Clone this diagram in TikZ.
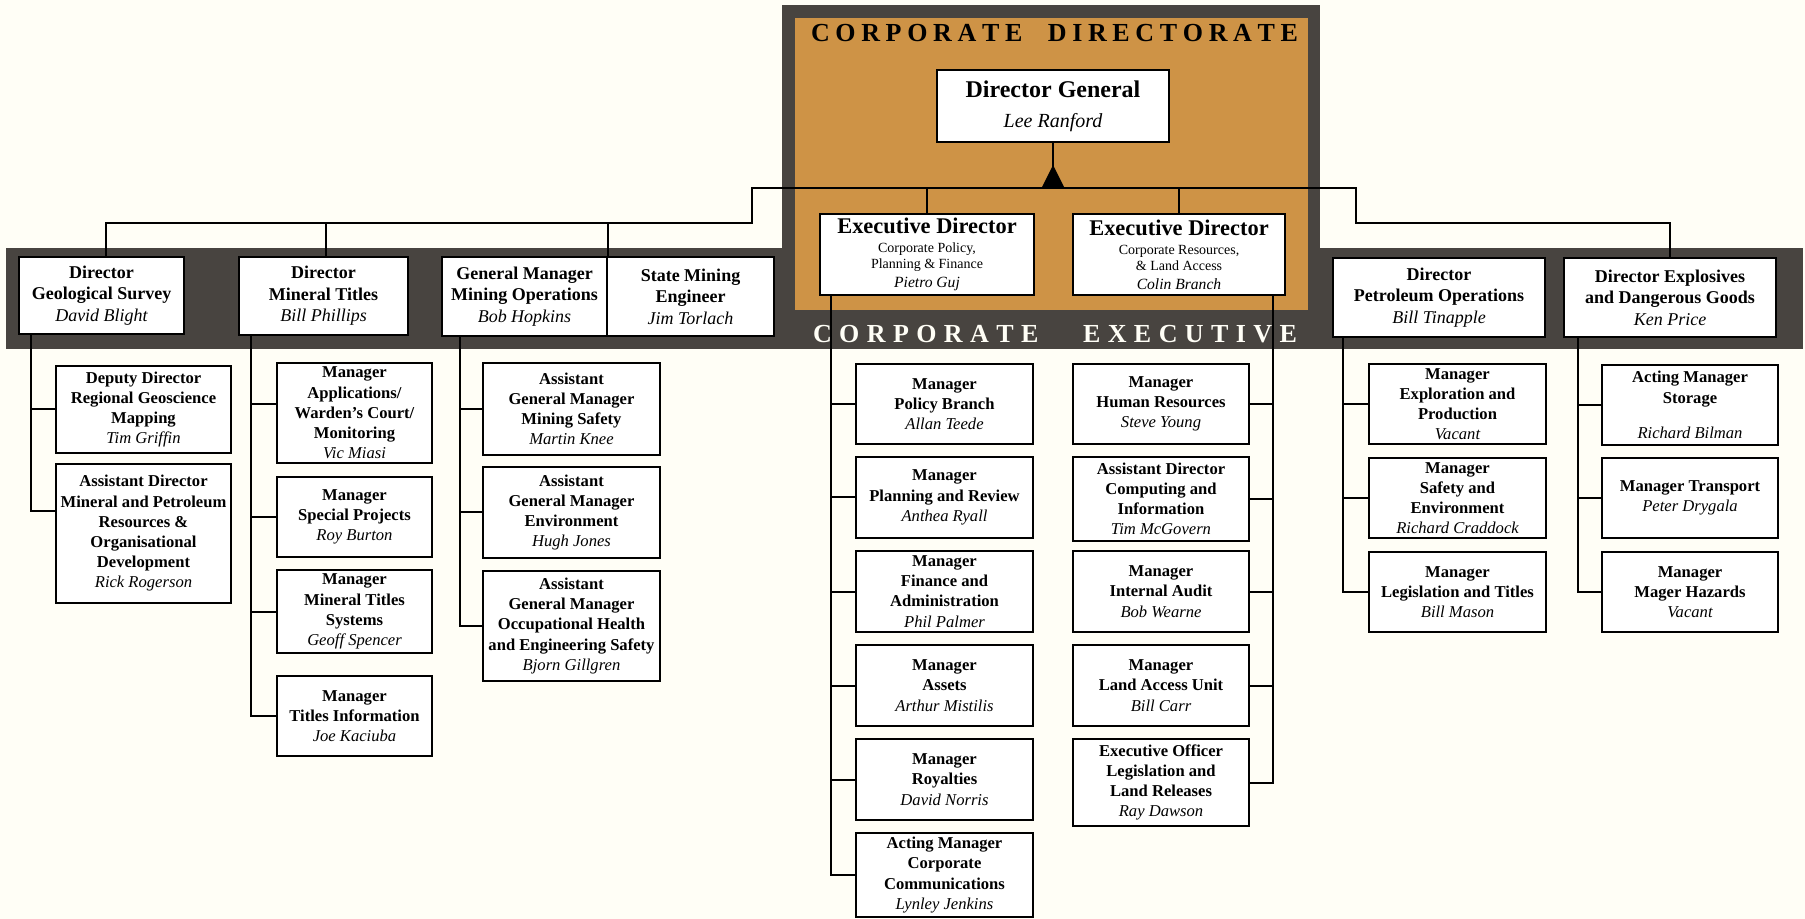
\documentclass[tikz,border=0pt]{standalone}
\usepackage{fontspec}
\setmainfont{Liberation Serif}
\usepackage{tikz}
\usetikzlibrary{calc,positioning}
\definecolor{paper}{RGB}{255,254,246}
\definecolor{ochre}{RGB}{206,147,70}
\definecolor{slate}{RGB}{72,68,64}
\newcommand{\who}[1]{{\mdseries\itshape #1}}

\begin{document}
\begin{tikzpicture}[
    x=0.5pt, y=-0.5pt,
    link/.style={line width=1pt},
    boss/.style={draw, fill=white, line width=1.2pt, align=center, inner sep=1pt},
    head/.style={boss, inner ysep=0pt, font=\fontsize{9}{10.8}\selectfont\bfseries},
    kid/.style={boss, inner ysep=0pt, minimum width=#1, font=\fontsize{8.3}{10.1}\selectfont\bfseries},
    exec/.style={boss, minimum height=40.5pt, inner sep=0pt, font=\fontsize{7}{8}\selectfont},
    banner/.style={font=\fontsize{13}{15}\selectfont\bfseries}
]
\useasboundingbox (0,0) rectangle (1805,919);
\fill[paper] (0,0) rectangle (1805,919);

% dark band and the directorate frame
\fill[slate] (6,248) rectangle (1803,349);
\fill[slate] (782,5) rectangle (1320,349);
\fill[ochre] (795,18) rectangle (1308,310);

\node[banner] (dirtitle) at (1054.5,33) {\makebox[243.5pt]{C\hfill O\hfill R\hfill P\hfill O\hfill R\hfill A\hfill T\hfill E\hskip 0pt plus 4.5fill D\hfill I\hfill R\hfill E\hfill C\hfill T\hfill O\hfill R\hfill A\hfill T\hfill E}};
\node[banner, text=paper] (exectitle) at (1055,334) {\makebox[242pt]{C\hfill O\hfill R\hfill P\hfill O\hfill R\hfill A\hfill T\hfill E\hskip 0pt plus 6fill E\hfill X\hfill E\hfill C\hfill U\hfill T\hfill I\hfill V\hfill E}};

% directorate
\node[boss, minimum width=116pt, minimum height=36pt] (dg) at (1053,106) {\fontsize{12}{14}\selectfont\bfseries Director General\\[3pt]\fontsize{10}{12}\selectfont\mdseries\itshape Lee Ranford};
\node[exec, minimum width=107pt] (exec1) at (927,254.5) {{\fontsize{11.2}{12}\selectfont\bfseries Executive Director}\\[1.5pt]Corporate Policy,\\Planning \& Finance\\[1.5pt]{\fontsize{7.8}{9}\selectfont\itshape Pietro Guj}};
\node[exec, minimum width=106pt] (exec2) at (1179,254.5) {{\fontsize{11.2}{12}\selectfont\bfseries Executive Director}\\[1.5pt]Corporate Resources,\\\& Land Access\\[1.5pt]{\fontsize{7.8}{9}\selectfont\itshape Colin Branch}};

% corporate executive
\node[head, minimum width=82.5pt, minimum height=38.5pt] (geo) at (101.5,295.5) {Director\\Geological Survey\\\who{David Blight}};
\node[head, minimum width=84.5pt, minimum height=39pt] (mintitles) at (323.5,296) {Director\\Mineral Titles\\\who{Bill Phillips}};
\node[head, minimum width=82.5pt, minimum height=39.5pt] (gm) at (524.5,296.5) {General Manager\\Mining Operations\\\who{Bob Hopkins}};
\node[head, minimum width=83.5pt, minimum height=39.5pt] (state) at (690.5,296.5) {State Mining\\Engineer\\\who{Jim Torlach}};
\node[head, minimum width=106pt, minimum height=39.5pt] (petrol) at (1439,297.5) {Director\\Petroleum Operations\\\who{Bill Tinapple}};
\node[head, minimum width=106pt, minimum height=39.5pt] (explos) at (1670,297.5) {Director Explosives\\and Dangerous Goods\\\who{Ken Price}};

% geological survey
\node[kid=87.5pt, minimum height=43.5pt] (dep) at (143.5,409.5) {Deputy Director\\Regional Geoscience\\Mapping\\\who{Tim Griffin}};
\node[kid=87.5pt, minimum height=69.5pt] (asst) at (143.5,533.5) {Assistant Director\\Mineral and Petroleum\\Resources \&\\Organisational\\Development\\\who{Rick Rogerson}};

% mineral titles
\node[kid=77.5pt, minimum height=50pt] (app) at (354.5,413) {Manager\\Applications/\\Warden's Court/\\Monitoring\\\who{Vic Miasi}};
\node[kid=77.5pt, minimum height=40pt] (spec) at (354.5,517) {Manager\\Special Projects\\\who{Roy Burton}};
\node[kid=77.5pt, minimum height=41.5pt] (sys) at (354.5,611.5) {Manager\\Mineral Titles\\Systems\\\who{Geoff Spencer}};
\node[kid=77.5pt, minimum height=40pt] (tinfo) at (354.5,716) {Manager\\Titles Information\\\who{Joe Kaciuba}};

% mining operations
\node[kid=88.5pt, minimum height=46pt] (msafe) at (571.5,409) {Assistant\\General Manager\\Mining Safety\\\who{Martin Knee}};
\node[kid=88.5pt, minimum height=45.5pt] (env) at (571.5,512.5) {Assistant\\General Manager\\Environment\\\who{Hugh Jones}};
\node[kid=88.5pt, minimum height=55pt] (ohs) at (571.5,626) {Assistant\\General Manager\\Occupational Health\\and Engineering Safety\\\who{Bjorn Gillgren}};

% policy, planning and finance
\node[kid=88.5pt, minimum height=40pt] (pol) at (944.5,404) {Manager\\Policy Branch\\\who{Allan Teede}};
\node[kid=88.5pt, minimum height=40.5pt] (plan) at (944.5,497.5) {Manager\\Planning and Review\\\who{Anthea Ryall}};
\node[kid=88.5pt, minimum height=40.5pt] (fin) at (944.5,591.5) {Manager\\Finance and\\Administration\\\who{Phil Palmer}};
\node[kid=88.5pt, minimum height=40.5pt] (assets) at (944.5,685.5) {Manager\\Assets\\\who{Arthur Mistilis}};
\node[kid=88.5pt, minimum height=40.5pt] (roy) at (944.5,779.5) {Manager\\Royalties\\\who{David Norris}};
\node[kid=88.5pt, minimum height=42pt] (comms) at (944.5,875) {Acting Manager\\Corporate\\Communications\\\who{Lynley Jenkins}};

% resources and land access
\node[kid=88pt, minimum height=40pt] (hr) at (1161,404) {Manager\\Human Resources\\\who{Steve Young}};
\node[kid=88pt, minimum height=42pt] (comp) at (1161,499) {Assistant Director\\Computing and\\Information\\\who{Tim McGovern}};
\node[kid=88pt, minimum height=40.5pt] (audit) at (1161,591.5) {Manager\\Internal Audit\\\who{Bob Wearne}};
\node[kid=88pt, minimum height=40.5pt] (land) at (1161,685.5) {Manager\\Land Access Unit\\\who{Bill Carr}};
\node[kid=88pt, minimum height=43.5pt] (legrel) at (1161,782.5) {Executive Officer\\Legislation and\\Land Releases\\\who{Ray Dawson}};

% petroleum operations
\node[kid=88.5pt, minimum height=40pt] (expl) at (1457.5,404) {Manager\\Exploration and\\Production\\\who{Vacant}};
\node[kid=88.5pt, minimum height=40pt] (safeenv) at (1457.5,498) {Manager\\Safety and\\Environment\\\who{Richard Craddock}};
\node[kid=88.5pt, minimum height=40pt] (legtit) at (1457.5,592) {Manager\\Legislation and Titles\\\who{Bill Mason}};

% explosives and dangerous goods
\node[kid=88pt, minimum height=40pt] (stor) at (1690,405) {Acting Manager\\Storage\\[7.5pt]\who{Richard Bilman}};
\node[kid=88pt, minimum height=40pt] (trans) at (1690,498) {Manager Transport\\\who{Peter Drygala}};
\node[kid=88pt, minimum height=40pt] (haz) at (1690,592) {Manager\\Mager Hazards\\\who{Vacant}};

% top level links
\coordinate (stepL) at (752,188);
\coordinate (stepR) at (1356,188);
\coordinate (lowL) at (752,223);
\coordinate (lowR) at (1356,223);
\draw[link] ($(geo.north)+(4.5,0)$) |- (lowL) -- (stepL) -- (stepR) -- (lowR) -| (explos.north);
\draw[link] ($(mintitles.north)+(2.5,0)$) -- ($(mintitles.north |- lowL)+(2.5,0)$);
\draw[link] (gm.north east) -- (gm.north east |- lowL);
\draw[link] (exec1.north) -- (exec1.north |- stepL);
\draw[link] (exec2.north) -- (exec2.north |- stepL);
\draw[link] (dg.south) -- (dg.south |- stepL);
\fill ($(dg.south |- stepL)+(-11.5,0)$) -- ($(dg.south |- stepL)+(11.5,0)$) -- ($(dg.south |- stepL)+(0,-23)$) -- cycle;

% branch links
\draw[link] ($(geo.south west)+(13,0)$) |- (dep);
\draw[link] ($(geo.south west)+(13,0)$) |- ($(asst.west)+(0,-22.5)$);
\draw[link] ($(mintitles.south west)+(13,0)$) |- ($(app.west)+(0,-9)$);
\foreach \k in {spec,sys,tinfo}
  \draw[link] ($(mintitles.south west)+(13,0)$) |- (\k);
\foreach \k in {msafe,env,ohs}
  \draw[link] ($(gm.south west)+(19,0)$) |- (\k);
\foreach \k in {pol,plan,fin,assets,roy,comms}
  \draw[link] ($(exec1.south west)+(12,0)$) |- (\k);
\foreach \k in {hr,comp,audit,land,legrel}
  \draw[link] ($(exec2.south east)+(-13,0)$) |- (\k);
\foreach \k in {expl,safeenv,legtit}
  \draw[link] ($(petrol.south west)+(11,0)$) |- (\k);
\foreach \k in {stor,trans,haz}
  \draw[link] ($(explos.south west)+(15,0)$) |- (\k);
\end{tikzpicture}
\end{document}
